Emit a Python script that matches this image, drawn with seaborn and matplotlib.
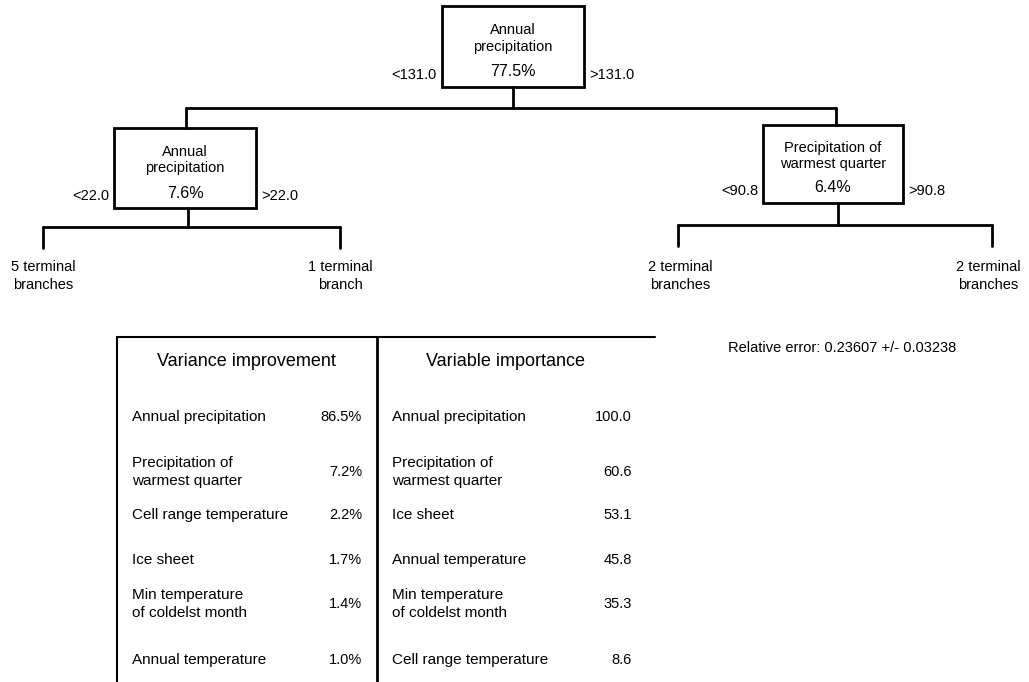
import matplotlib
matplotlib.use("Agg")
import matplotlib.pyplot as plt
import seaborn as sns
from matplotlib.patches import Rectangle

# tree nodes
node_names = ["Annual\nprecipitation", "Annual\nprecipitation", "Precipitation of\nwarmest quarter"]
node_pcts = ["77.5%", "7.6%", "6.4%"]
node_splits = [131.0, 22.0, 90.8]
leaf_labels = ["5 terminal\nbranches", "1 terminal\nbranch", "2 terminal\nbranches", "2 terminal\nbranches"]
rel_error = "Relative error: 0.23607 +/- 0.03238"

# tables
var_imp_names = ["Annual precipitation", "Precipitation of\nwarmest quarter", "Cell range temperature",
                 "Ice sheet", "Min temperature\nof coldelst month", "Annual temperature"]
var_imp_vals = ["86.5%", "7.2%", "2.2%", "1.7%", "1.4%", "1.0%"]
importance_names = ["Annual precipitation", "Precipitation of\nwarmest quarter", "Ice sheet",
                    "Annual temperature", "Min temperature\nof coldelst month", "Cell range temperature"]
importance_vals = ["100.0", "60.6", "53.1", "45.8", "35.3", "8.6"]

sns.set_style("white")
plt.rcParams["font.family"] = ["Liberation Sans", "DejaVu Sans"]
plt.rcParams["text.color"] = "black"

fig = plt.figure(figsize=(10.29, 6.82), dpi=100)
ax = fig.add_axes([0, 0, 1, 1])
ax.set_xlim(0, 1029)
ax.set_ylim(682, 0)
ax.axis("off")

lw = 2.0
fs = 10.5

# node boxes (x0, x1, y0, y1)
boxes = [(442, 584, 6, 87), (114, 256, 128, 208), (763, 903, 125, 203)]
for (x0, x1, y0, y1), name, pct in zip(boxes, node_names, node_pcts):
    ax.add_patch(Rectangle((x0, y0), x1 - x0, y1 - y0, fill=False, lw=lw, ec="black"))
    cx = (x0 + x1) / 2
    ax.text(cx, y0 + (y1 - y0) * 0.40, name, ha="center", va="center", fontsize=fs, linespacing=1.2)
    ax.text(cx, y1 - 15, pct, ha="center", va="center", fontsize=fs + 1)

# split labels
for (x0, x1, y0, y1), s in zip(boxes, node_splits):
    ax.text(x0 - 5, y1 - 12, f"<{s:.1f}", ha="right", va="center", fontsize=fs)
    ax.text(x1 + 5, y1 - 12, f">{s:.1f}", ha="left", va="center", fontsize=fs)

# root connectors
ax.plot([513, 513], [87, 108], color="black", lw=lw)
ax.plot([186, 836], [108, 108], color="black", lw=lw)
ax.plot([186, 186], [108, 128], color="black", lw=lw)
ax.plot([836, 836], [108, 125], color="black", lw=lw)

# child connectors to leaves
for stem, y_top, y_bar, xl, xr in [(188, 208, 227, 43, 340), (838, 203, 225, 678, 992)]:
    ax.plot([stem, stem], [y_top, y_bar], color="black", lw=lw)
    ax.plot([xl, xr], [y_bar, y_bar], color="black", lw=lw)
    ax.plot([xl, xl], [y_bar, y_bar + 21], color="black", lw=lw)
    ax.plot([xr, xr], [y_bar, y_bar + 21], color="black", lw=lw)

for x, lab in zip([43, 340, 680, 988], leaf_labels):
    ax.text(x, 276, lab, ha="center", va="center", fontsize=fs, linespacing=1.3)

ax.text(842, 348, rel_error, ha="center", va="center", fontsize=fs)

# tables
ax.plot([117, 655], [337, 337], color="black", lw=1.5)
ax.plot([117, 117], [337, 682], color="black", lw=1.5)
ax.plot([377, 377], [337, 682], color="black", lw=2.0)

ax.text(246, 361, "Variance improvement", ha="center", va="center", fontsize=13)
ax.text(505, 361, "Variable importance", ha="center", va="center", fontsize=13)

row_y = [417, 472, 515, 560, 604, 660]
for y, name, val in zip(row_y, var_imp_names, var_imp_vals):
    ax.text(132, y, name, ha="left", va="center", fontsize=fs + 0.5, linespacing=1.3)
    ax.text(362, y, val, ha="right", va="center", fontsize=fs)

for y, name, val in zip(row_y, importance_names, importance_vals):
    ax.text(392, y, name, ha="left", va="center", fontsize=fs + 0.5, linespacing=1.3)
    ax.text(632, y, val, ha="right", va="center", fontsize=fs)

fig.savefig("out.png", dpi=100, facecolor="white")
